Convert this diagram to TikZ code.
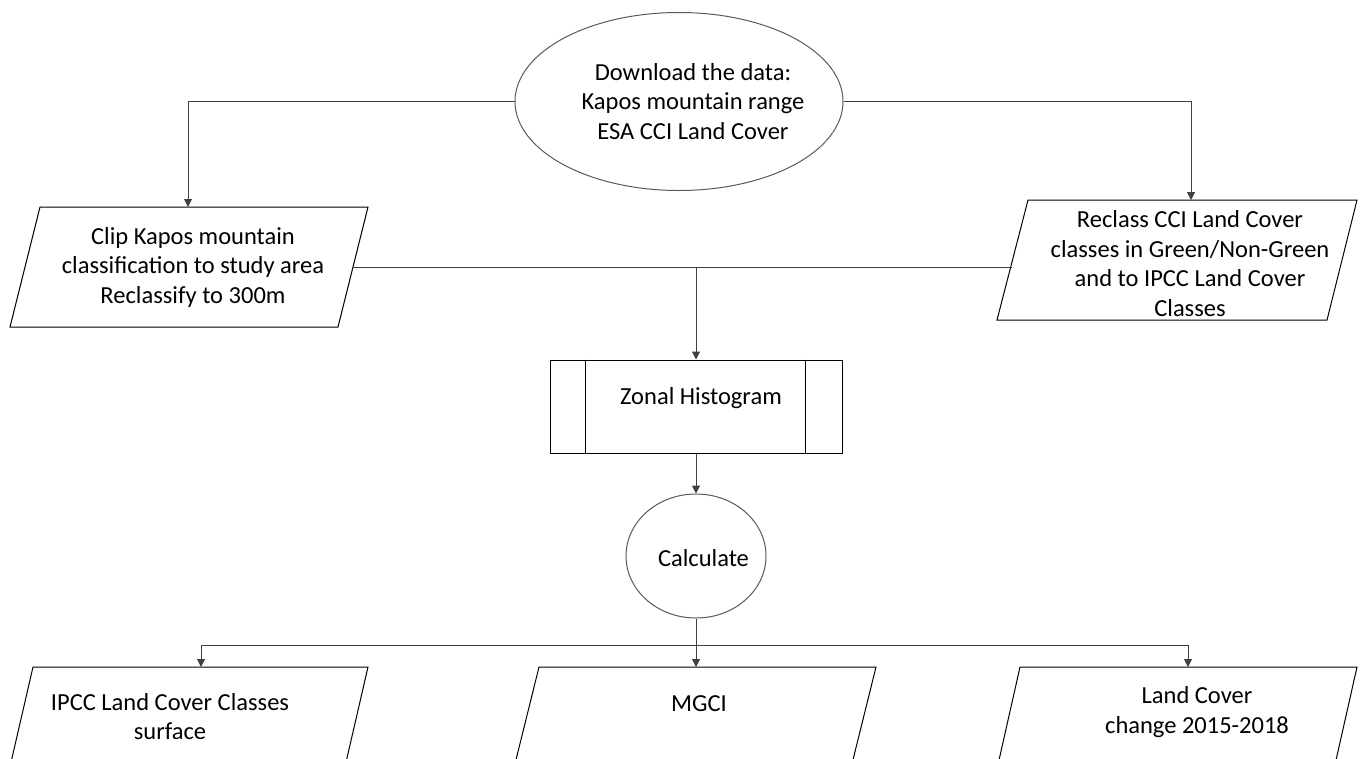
\documentclass[tikz,border=0pt]{standalone}
\usepackage{fontspec}
\setmainfont{Carlito}
\usetikzlibrary{shapes.geometric,arrows.meta}
\begin{document}
\begin{tikzpicture}[x=1pt,y=1pt,
  txt/.style={align=center,inner sep=0pt,font=\fontsize{24.5}{29.5}\selectfont},
  conn/.style={draw=black!75,line width=1pt},
  arr/.style={conn,-{Triangle[length=8pt,width=8pt]}},
  shp/.style={draw=black,line width=1pt},
  oval/.style={draw=black!65,line width=1pt,ellipse,inner sep=0pt}]
\useasboundingbox (0,0) rectangle (1362,-758);
\clip (0,0) rectangle (1362,-758);
% top ellipse
\node[oval,minimum width=328pt,minimum height=178pt] (dl) at (679,-101.5) {};
\node[txt] (dltxt) at (693,-101.5) {Download the data:\\Kapos mountain range\\ESA CCI Land Cover};
% left parallelogram
\draw[shp] (40,-207) -- (368,-207) -- (338,-327) -- (10,-327) -- cycle;
\node[txt] (clip) at (193,-267) {Clip Kapos mountain\\classification to study area\\Reclassify to 300m};
\coordinate (cliptop) at (188,-207);
\coordinate (clipright) at (353,-267);
% right parallelogram
\draw[shp] (1028,-200) -- (1357,-200) -- (1327,-320) -- (997,-320) -- cycle;
\node[txt] (rc) at (1190,-263.5) {Reclass CCI Land Cover\\classes in Green/Non-Green\\and to IPCC Land Cover\\Classes};
\coordinate (rctop) at (1191,-200);
\coordinate (rcleft) at (1012,-267);
% zonal histogram
\node[shp,rectangle,minimum width=292pt,minimum height=93pt,inner sep=0pt] (zh) at (696,-406.5) {};
\draw[shp] ([xshift=36pt]zh.north west) -- ([xshift=36pt]zh.south west);
\draw[shp] ([xshift=-37pt]zh.north east) -- ([xshift=-37pt]zh.south east);
\node[txt] (zhtxt) at (701,-398) {Zonal Histogram};
% calculate
\node[oval,minimum width=140pt,minimum height=124pt] (calc) at (696,-556) {};
\node[txt] (calctxt) at (703.5,-558) {Calculate};
% bottom parallelograms
\draw[shp] (33,-667) -- (368,-667) -- (337.3,-800) -- (2.3,-800) -- cycle;
\node[txt] (ipcc) at (170,-716.5) {IPCC Land Cover Classes\\surface};
\draw[shp] (539,-667) -- (876,-667) -- (843,-800) -- (506,-800) -- cycle;
\node[txt] (mgci) at (699,-704) {MGCI};
\draw[shp] (1020,-667) -- (1357,-667) -- (1327,-800) -- (990,-800) -- cycle;
\node[txt] (lcc) at (1197,-712) {Land Cover\\change 2015-2018};
\coordinate (bltop) at (201,-667);
\coordinate (bmtop) at (696,-667);
\coordinate (brtop) at (1188,-667);
% connectors
\draw[arr] (dl.west) -| (cliptop);
\draw[arr] (dl.east) -| (rctop);
\draw[conn] (clipright) -- (rcleft);
\coordinate (j1) at (696,-267);
\draw[arr] (j1) -- (j1 |- zh.north);
\draw[arr] (zh.south) -- (calc.north);
\coordinate (j2) at (696,-645);
\draw[conn] (calc.south) -- (j2);
\draw[arr] (j2) -| (bltop);
\draw[arr] (j2) -| (brtop);
\draw[arr] (j2) -- (bmtop);
\end{tikzpicture}
\end{document}
